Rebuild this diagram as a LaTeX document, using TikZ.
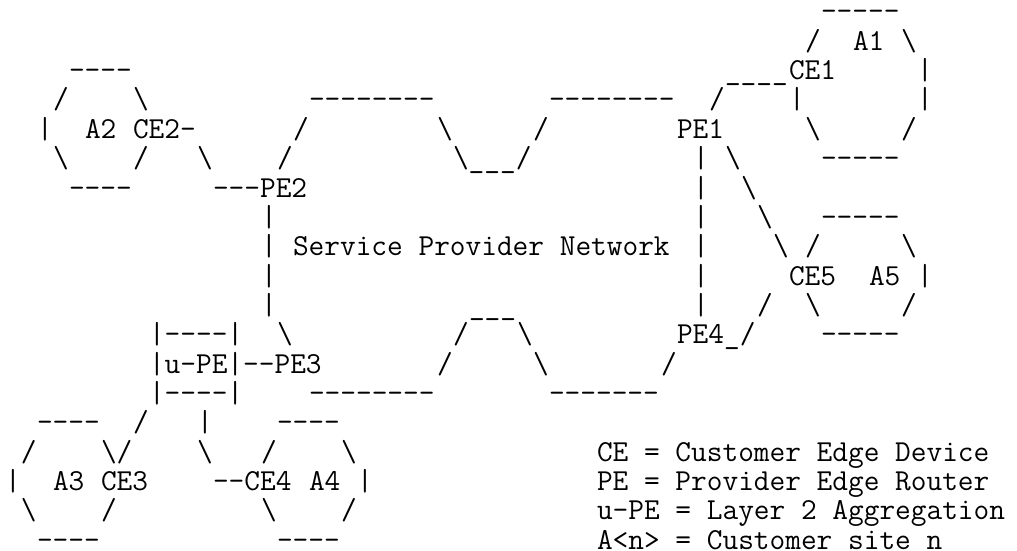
\documentclass[tikz,border=0pt]{standalone}
\usepackage{fontspec}
\newcommand{\bs}{\textbackslash}
\tikzset{ch/.style={anchor=base west,inner sep=0pt,outer sep=0pt,
  font=\fontsize{22.857pt}{22pt}\selectfont\ttfamily}}

\begin{document}
\begin{tikzpicture}[x=12pt,y=-22pt]
  \useasboundingbox (-0.3125,-0.716) rectangle (63.25,18.068);
  \node[ch] (a1t) at (51,0) {-----};
  \node[ch] (a1l) at (50,1) {/};
  \node[ch] (a1) at (53,1) {A1};
  \node[ch] (a1r) at (56,1) {\bs};
  \node[ch] (a2t) at (4,2) {----};
  \node[ch] (ce1l) at (45,2) {\_\_\_\_};
  \node[ch] (ce1) at (49,2) {CE1};
  \node[ch] (a1e) at (57,2) {|};
  \node[ch] (a2nw) at (3,3) {/};
  \node[ch] (a2ne) at (8,3) {\bs};
  \node[ch] (spt1) at (19,3) {--------};
  \node[ch] (spt2) at (34,3) {--------};
  \node[ch] (pe1ce1) at (44,3) {/};
  \node[ch] (ce1d) at (49,3) {|};
  \node[ch] (a1e2) at (57,3) {|};
  \node[ch] (a2w) at (2,4) {|};
  \node[ch] (a2) at (5,4) {A2};
  \node[ch] (ce2) at (8,4) {CE2-};
  \node[ch] (spnw1) at (18,4) {/};
  \node[ch] (spn1) at (27,4) {\bs};
  \node[ch] (spn2) at (33,4) {/};
  \node[ch] (pe1) at (42,4) {PE1};
  \node[ch] (a1sw) at (50,4) {\bs};
  \node[ch] (a1se) at (56,4) {/};
  \node[ch] (a2sw) at (3,5) {\bs};
  \node[ch] (a2se) at (8,5) {/};
  \node[ch] (ce2pe2) at (12,5) {\bs};
  \node[ch] (spnw2) at (17,5) {/};
  \node[ch] (spdip) at (28,5) {\bs\_\_\_/};
  \node[ch] (spe1) at (43,5) {|};
  \node[ch] (pe1ce5a) at (45,5) {\bs};
  \node[ch] (a1b) at (51,5) {-----};
  \node[ch] (a2b) at (4,6) {----};
  \node[ch] (pe2) at (13,6) {---PE2};
  \node[ch] (spe2) at (43,6) {|};
  \node[ch] (pe1ce5b) at (46,6) {\bs};
  \node[ch] (spw1) at (16,7) {|};
  \node[ch] (spe3) at (43,7) {|};
  \node[ch] (pe1ce5c) at (47,7) {\bs};
  \node[ch] (a5t) at (51,7) {-----};
  \node[ch] (spw2) at (16,8) {|};
  \node[ch] (spn) at (18,8) {Service Provider Network};
  \node[ch] (spe4) at (43,8) {|};
  \node[ch] (pe1ce5d) at (48,8) {\bs};
  \node[ch] (a5nw) at (50,8) {/};
  \node[ch] (a5ne) at (56,8) {\bs};
  \node[ch] (spw3) at (16,9) {|};
  \node[ch] (spe5) at (43,9) {|};
  \node[ch] (ce5) at (49,9) {CE5};
  \node[ch] (a5) at (54,9) {A5};
  \node[ch] (a5e) at (57,9) {|};
  \node[ch] (spw4) at (16,10) {|};
  \node[ch] (spbump) at (29,10) {\_\_\_};
  \node[ch] (spe6) at (43,10) {|};
  \node[ch] (pe4ce5) at (47,10) {/};
  \node[ch] (a5sw) at (50,10) {\bs};
  \node[ch] (a5se) at (56,10) {/};
  \node[ch] (upet) at (9,11) {|----|};
  \node[ch] (spsw1) at (17,11) {\bs};
  \node[ch] (spb1) at (28,11) {/};
  \node[ch] (spb2) at (32,11) {\bs};
  \node[ch] (pe4) at (42,11) {PE4\_/};
  \node[ch] (a5b) at (51,11) {-----};
  \node[ch] (upe) at (9,12) {|u-PE|--PE3};
  \node[ch] (spb3) at (27,12) {/};
  \node[ch] (spb4) at (33,12) {\bs};
  \node[ch] (spse) at (41,12) {/};
  \node[ch] (upeb) at (9,13) {|----|};
  \node[ch] (spbot1) at (19,13) {--------};
  \node[ch] (spbot2) at (34,13) {-------};
  \node[ch] (a3t) at (2,14) {----};
  \node[ch] (upece3) at (8,14) {/};
  \node[ch] (upece4a) at (12,14) {|};
  \node[ch] (a4t) at (17,14) {----};
  \node[ch] (a3nw) at (1,15) {/};
  \node[ch] (a3ne) at (6,15) {\bs/};
  \node[ch] (upece4b) at (12,15) {\bs};
  \node[ch] (a4nw) at (16,15) {/};
  \node[ch] (a4ne) at (21,15) {\bs};
  \node[ch] (keyce) at (37,15) {CE = Customer Edge Device};
  \node[ch] (a3w) at (0,16) {|};
  \node[ch] (a3) at (3,16) {A3};
  \node[ch] (ce3) at (6,16) {CE3};
  \node[ch] (ce4) at (13,16) {--CE4};
  \node[ch] (a4) at (19,16) {A4};
  \node[ch] (a4e) at (22,16) {|};
  \node[ch] (keype) at (37,16) {PE = Provider Edge Router};
  \node[ch] (a3sw) at (1,17) {\bs};
  \node[ch] (a3se) at (6,17) {/};
  \node[ch] (a4sw) at (16,17) {\bs};
  \node[ch] (a4se) at (21,17) {/};
  \node[ch] (keyupe) at (37,17) {u-PE = Layer 2 Aggregation};
  \node[ch] (a3b) at (2,18) {----};
  \node[ch] (a4b) at (17,18) {----};
  \node[ch] (keya) at (37,18) {A<n> = Customer site n};
\end{tikzpicture}
\end{document}
